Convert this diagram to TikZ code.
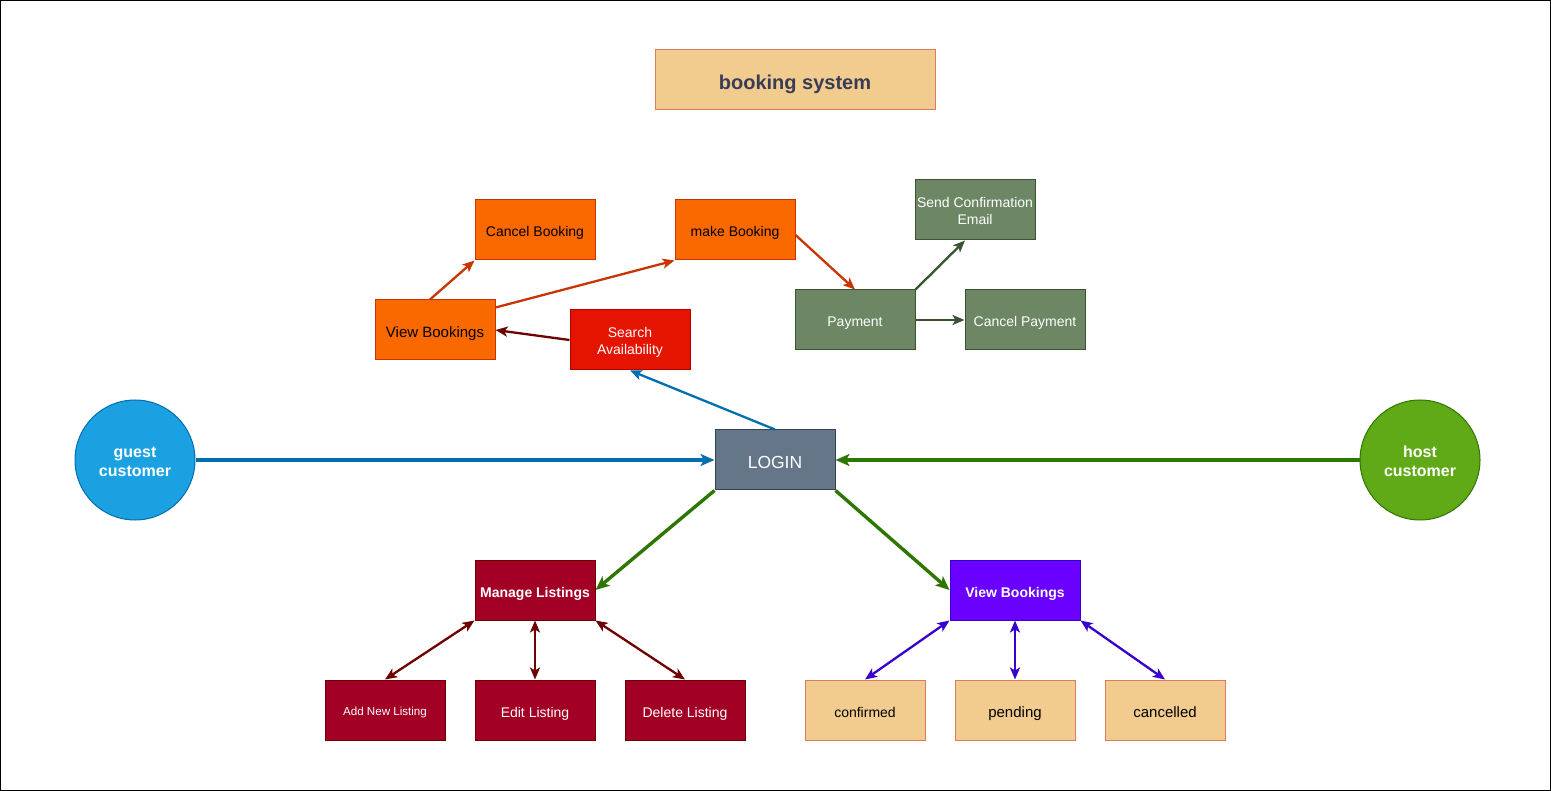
\documentclass[tikz,border=0pt]{standalone}
\usepackage{fontspec}
\setmainfont{Liberation Sans}
\usetikzlibrary{arrows.meta}
\definecolor{peachfill}{HTML}{F2CC8F}
\definecolor{peachline}{HTML}{E07A5F}
\definecolor{peachtext}{HTML}{393C56}
\definecolor{orangefill}{HTML}{FA6800}
\definecolor{orangeline}{HTML}{C73500}
\definecolor{redfill}{HTML}{E51400}
\definecolor{redline}{HTML}{B20000}
\definecolor{olivefill}{HTML}{6D8764}
\definecolor{oliveline}{HTML}{3A5431}
\definecolor{slatefill}{HTML}{647687}
\definecolor{slateline}{HTML}{314354}
\definecolor{bluefill}{HTML}{1BA1E2}
\definecolor{blueline}{HTML}{006EAF}
\definecolor{greenfill}{HTML}{60A917}
\definecolor{greenline}{HTML}{2D7600}
\definecolor{crimsonfill}{HTML}{A20025}
\definecolor{crimsonline}{HTML}{6F0000}
\definecolor{violetfill}{HTML}{6A00FF}
\definecolor{violetline}{HTML}{3700CC}

\begin{document}
\begin{tikzpicture}[x=1pt, y=-1pt,
  box/.style={draw, line width=1pt, minimum width=120pt, minimum height=60pt, inner sep=0pt, align=center, text height=14pt, text depth=0pt, font=\fontsize{14}{17}\selectfont},
  bigtext/.style={text height=15pt, font=\fontsize{15}{18}\selectfont},
  twolines/.style={text height=30pt, text depth=0pt},
  orangebox/.style={box, fill=orangefill, draw=orangeline, text=black},
  redbox/.style={box, fill=redfill, draw=redline, text=white},
  olivebox/.style={box, fill=olivefill, draw=oliveline, text=white},
  crimsonbox/.style={box, fill=crimsonfill, draw=crimsonline, text=white},
  peachbox/.style={box, fill=peachfill, draw=peachline, text=black},
  actor/.style={circle, draw, line width=1pt, minimum size=120pt, inner sep=0pt, align=center, text height=34pt, text depth=0pt, text=white, font=\fontsize{16}{20}\selectfont\bfseries},
  arr/.style={line width=2.3pt, -{Stealth[length=12pt, width=10pt, inset=3pt]}},
  bigarr/.style={line width=3.4pt, -{Stealth[length=14pt, width=12pt, inset=3.5pt]}},
  dblarr/.style={line width=2.3pt, {Stealth[length=12pt, width=10pt, inset=3pt]}-{Stealth[length=12pt, width=10pt, inset=3pt]}}]
\useasboundingbox (0,0) rectangle (1551,791);
\draw[line width=1pt] (0.5,0.5) rectangle (1550.5,790.5);

% title
\node[box, minimum width=280pt, fill=peachfill, draw=peachline, text=peachtext, text height=20pt, font=\fontsize{20}{24}\selectfont\bfseries] (title) at (795,80) {booking system};

% guest side
\node[orangebox] (cancelbooking) at (535,230) {Cancel Booking};
\node[orangebox] (makebooking) at (735,230) {make Booking};
\node[orangebox, bigtext] (viewbookings) at (435,330) {View Bookings};
\node[redbox, twolines] (search) at (630,340) {Search\\Availability};
\node[olivebox, twolines] (sendemail) at (975,210) {Send Confirmation\\Email};
\node[olivebox] (payment) at (855,320) {Payment};
\node[olivebox] (cancelpayment) at (1025,320) {Cancel Payment};

% centre
\node[box, fill=slatefill, draw=slateline, text=white, text height=17.5pt, font=\fontsize{17.5}{21}\selectfont] (login) at (775,460) {LOGIN};
\node[actor, fill=bluefill, draw=blueline] (guest) at (135,460) {guest\\customer};
\node[actor, fill=greenfill, draw=greenline] (host) at (1420,460) {host\\customer};

% host side
\node[crimsonbox, font=\fontsize{14}{17}\selectfont\bfseries] (manage) at (535,590) {Manage Listings};
\node[box, minimum width=130pt, fill=violetfill, draw=violetline, text=white, font=\fontsize{14}{17}\selectfont\bfseries] (hostbookings) at (1015,590) {View Bookings};
\node[crimsonbox, text height=11.6pt, font=\fontsize{11.6}{14}\selectfont] (addlisting) at (385,710) {Add New Listing};
\node[crimsonbox] (editlisting) at (535,710) {Edit Listing};
\node[crimsonbox] (deletelisting) at (685,710) {Delete Listing};
\node[peachbox] (confirmed) at (865,710) {confirmed};
\node[peachbox, bigtext] (pending) at (1015,710) {pending};
\node[peachbox, bigtext] (cancelled) at (1165,710) {cancelled};

% connectors
\draw[bigarr, blueline] (guest) -- (login);
\draw[bigarr, greenline] (host) -- (login);
\draw[arr, blueline] (login.north) -- (search.south);
\draw[arr, crimsonline] (search.west) -- (viewbookings.east);
\draw[arr, orangeline] ([xshift=-5pt]viewbookings.north) -- (cancelbooking.south west);
\draw[arr, orangeline] ([yshift=-8pt]viewbookings.north east) -- (makebooking.south west);
\draw[arr, orangeline] ([yshift=-5pt]makebooking.east) -- (payment.north);
\draw[arr, oliveline] (payment.north east) -- ([xshift=-10pt]sendemail.south);
\draw[arr, oliveline] (payment.east) -- (cancelpayment.west);
\draw[bigarr, greenline] (login.south west) -- (manage.east);
\draw[bigarr, greenline] (login.south east) -- (hostbookings.west);
\draw[dblarr, crimsonline] (manage.south west) -- (addlisting.north);
\draw[dblarr, crimsonline] (manage.south) -- (editlisting.north);
\draw[dblarr, crimsonline] (manage.south east) -- (deletelisting.north);
\draw[dblarr, violetline] (hostbookings.south west) -- (confirmed.north);
\draw[dblarr, violetline] (hostbookings.south) -- (pending.north);
\draw[dblarr, violetline] (hostbookings.south east) -- (cancelled.north);
\end{tikzpicture}
\end{document}
